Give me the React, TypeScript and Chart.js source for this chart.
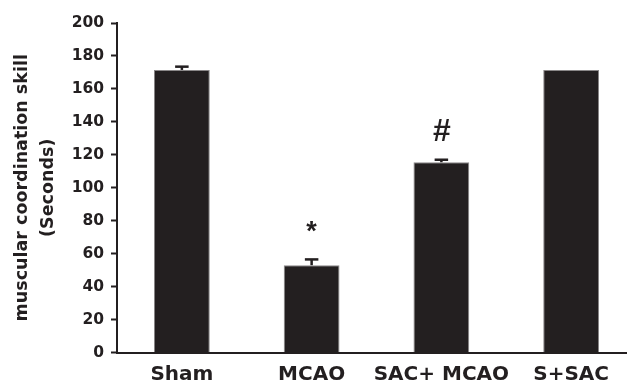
import { useEffect, useRef } from 'react';
import { Chart, registerables } from 'chart.js';

Chart.register(...registerables);

const categories = ['Sham', 'MCAO', 'SAC+ MCAO', 'S+SAC'];
const values = [171.5, 53, 115.5, 171.5];
const errors = [2, 3.5, 1.5, 0];
const markers = ['', '*', '#', ''];
const yTitle = ['muscular coordination skill', '(Seconds)'];
const yMin = 0;
const yMax = 200;
const yStep = 20;

const INK = '#231f20';
const FONT = "'DejaVu Sans', sans-serif";
const markerFonts: Record<string, string> = {
  '*': 'bold 27px "Liberation Sans"',
  '#': 'bold italic 32px "Liberation Sans"',
};

const errorPlugin = {
  id: 'errorBarsAndMarkers',
  afterDatasetsDraw(chart: any) {
    const ctx = chart.ctx;
    const meta = chart.getDatasetMeta(0);
    const ys = chart.scales.y;
    ctx.save();
    meta.data.forEach((bar: any, i: number) => {
      const x = bar.x;
      const top = ys.getPixelForValue(values[i]);
      const e = errors[i];
      let capY = top;
      ctx.fillStyle = INK;
      if (e > 0) {
        capY = ys.getPixelForValue(values[i] + e);
        ctx.fillRect(x - 1.25, capY, 2.5, top - capY);
        ctx.fillRect(x - 6.75, capY - 1.25, 13.5, 2.5);
      }
      const m = markers[i];
      if (m) {
        ctx.font = markerFonts[m];
        ctx.textAlign = 'center';
        ctx.textBaseline = 'alphabetic';
        ctx.fillText(m, x, capY - 19);
      }
    });
    ctx.restore();
  },
};

export default function App() {
  const ref = useRef<HTMLCanvasElement | null>(null);

  useEffect(() => {
    document.body.style.margin = '0';
    document.body.style.overflow = 'hidden';
    if (!ref.current) return;
    const chart = new Chart(ref.current, {
      type: 'bar',
      data: {
        labels: categories,
        datasets: [
          {
            data: values,
            backgroundColor: INK,
            borderColor: '#8a8788',
            borderWidth: 1,
            barPercentage: 0.43,
            categoryPercentage: 1,
          },
        ],
      },
      options: {
        animation: false,
        responsive: false,
        layout: { padding: { top: 23, right: 9, left: 0, bottom: 0 } },
        plugins: { legend: { display: false }, tooltip: { enabled: false } },
        scales: {
          x: {
            grid: { display: false, drawTicks: false, tickLength: 0 },
            border: { display: true, color: INK, width: 2 },
            ticks: {
              color: INK,
              font: { family: FONT, size: 20, weight: 'bold' },
              padding: 10,
              maxRotation: 0,
              minRotation: 0,
              autoSkip: false,
            },
            afterFit: (s: any) => {
              s.height = 32.5;
            },
          },
          y: {
            min: yMin,
            max: yMax,
            ticks: {
              stepSize: yStep,
              color: INK,
              font: { family: FONT, size: 15.5, weight: 'bold' },
              padding: 7,
            },
            grid: {
              drawOnChartArea: false,
              drawTicks: true,
              tickLength: 6,
              tickColor: INK,
              tickWidth: 2,
            },
            border: { color: INK, width: 2 },
            title: {
              display: true,
              text: yTitle,
              color: INK,
              font: { family: FONT, size: 17.5, weight: 'bold', lineHeight: '26px' },
              padding: { top: 9, bottom: 0 },
            },
            afterFit: (s: any) => {
              s.width = 117;
            },
          },
        },
      },
      plugins: [errorPlugin],
    } as any);
    return () => chart.destroy();
  }, []);

  return (
    <div style={{ width: 645, height: 385, overflow: 'hidden' }}>
      <canvas ref={ref} width={645} height={385} style={{ display: 'block', width: 645, height: 385 }} />
    </div>
  );
}
